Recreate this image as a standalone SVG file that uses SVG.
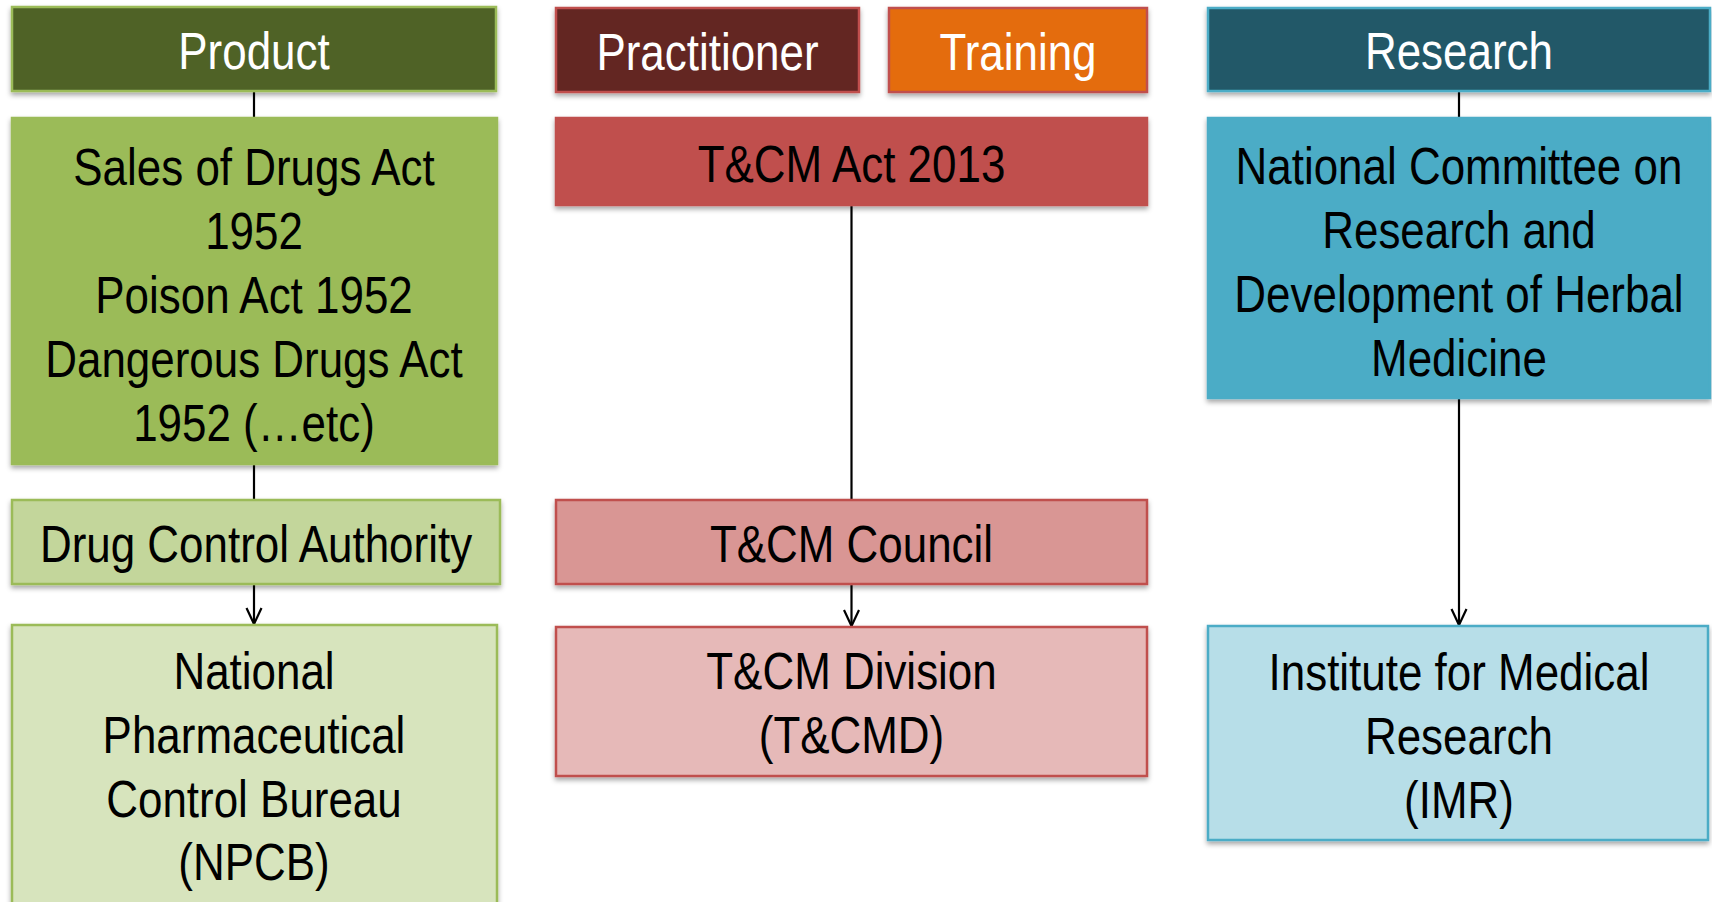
<svg xmlns="http://www.w3.org/2000/svg" width="1712" height="902" viewBox="0 0 1712 902">
<defs>
<style>
text{font-family:"Liberation Sans",Arial,sans-serif;font-size:52px;text-anchor:middle;fill:#000}
.w{fill:#fff}
.box{stroke-width:2.5;filter:url(#sh)}
.g{stroke:#9bbb59}.r{stroke:#c0504d}.b{stroke:#4bacc6}
.c{stroke:#000;stroke-width:2.2;fill:none}
</style>
<filter id="sh" x="-5%" y="-5%" width="110%" height="120%">
<feDropShadow dx="0" dy="3" stdDeviation="2.5" flood-color="#000" flood-opacity="0.35"/>
</filter>
<marker id="ah" viewBox="0 0 18 18" refX="17" refY="9" markerWidth="18" markerHeight="18" markerUnits="userSpaceOnUse" orient="auto">
<path d="M1 1.5 L17 9 L1 16.5" fill="none" stroke="#000" stroke-width="2.2"/>
</marker>
</defs>
<rect width="1712" height="902" fill="#fff"/>
<g id="connectors">
<line class="c" x1="254" y1="91" x2="254" y2="118"/>
<line class="c" x1="254" y1="464" x2="254" y2="500"/>
<line class="c" x1="254" y1="584" x2="254" y2="624" marker-end="url(#ah)"/>
<line class="c" x1="851.5" y1="205" x2="851.5" y2="500"/>
<line class="c" x1="851.5" y1="584" x2="851.5" y2="626" marker-end="url(#ah)"/>
<line class="c" x1="1459" y1="91" x2="1459" y2="118"/>
<line class="c" x1="1459" y1="398" x2="1459" y2="625" marker-end="url(#ah)"/>
</g>
<g id="product">
<rect class="box g" x="12" y="7" width="484" height="84" fill="#4f6228"/>
<text class="w" transform="scale(0.845 1)" x="300.6" y="69">Product</text>
</g>
<g id="sales">
<rect class="box g" x="12" y="118" width="485" height="346" fill="#9bbb59"/>
<text transform="scale(0.845 1)" x="300.6" y="185">Sales of Drugs Act</text>
<text transform="scale(0.845 1)" x="300.6" y="249">1952</text>
<text transform="scale(0.845 1)" x="300.6" y="313">Poison Act 1952</text>
<text transform="scale(0.845 1)" x="300.6" y="377">Dangerous Drugs Act</text>
<text transform="scale(0.845 1)" x="300.6" y="441">1952 (…etc)</text>
</g>
<g id="dca">
<rect class="box g" x="12" y="500" width="488" height="84" fill="#c3d69b"/>
<text transform="scale(0.845 1)" x="303" y="562">Drug Control Authority</text>
</g>
<g id="npcb">
<rect class="box g" x="12" y="625" width="485" height="290" fill="#d7e4bd"/>
<text transform="scale(0.845 1)" x="300.6" y="689">National</text>
<text transform="scale(0.845 1)" x="300.6" y="753">Pharmaceutical</text>
<text transform="scale(0.845 1)" x="300.6" y="817">Control Bureau</text>
<text transform="scale(0.845 1)" x="300.6" y="880">(NPCB)</text>
</g>
<g id="practitioner">
<rect class="box r" x="556" y="8" width="303" height="84" fill="#632523"/>
<text class="w" transform="scale(0.845 1)" x="837.3" y="70">Practitioner</text>
</g>
<g id="training">
<rect class="box r" x="889" y="8" width="258" height="84" fill="#e46c0a"/>
<text class="w" transform="scale(0.845 1)" x="1204.7" y="70">Training</text>
</g>
<g id="tcm-act">
<rect class="box r" x="556" y="118" width="591" height="87" fill="#c0504d"/>
<text transform="scale(0.845 1)" x="1007.7" y="182">T&amp;CM Act 2013</text>
</g>
<g id="tcm-council">
<rect class="box r" x="556" y="500" width="591" height="84" fill="#d99694"/>
<text transform="scale(0.845 1)" x="1007.7" y="562">T&amp;CM Council</text>
</g>
<g id="tcm-division">
<rect class="box r" x="556" y="627" width="591" height="149" fill="#e6b9b8"/>
<text transform="scale(0.845 1)" x="1007.7" y="689">T&amp;CM Division</text>
<text transform="scale(0.845 1)" x="1007.7" y="753">(T&amp;CMD)</text>
</g>
<g id="research">
<rect class="box b" x="1208" y="8" width="502" height="83" fill="#215968"/>
<text class="w" transform="scale(0.845 1)" x="1726.6" y="69">Research</text>
</g>
<g id="national-committee">
<rect class="box b" x="1208" y="118" width="502" height="280" fill="#4bacc6"/>
<text transform="scale(0.845 1)" x="1726.6" y="184">National Committee on</text>
<text transform="scale(0.845 1)" x="1726.6" y="248">Research and</text>
<text transform="scale(0.845 1)" x="1726.6" y="312">Development of Herbal</text>
<text transform="scale(0.845 1)" x="1726.6" y="376">Medicine</text>
</g>
<g id="imr">
<rect class="box b" x="1208" y="626" width="500" height="214" fill="#b7dee8"/>
<text transform="scale(0.845 1)" x="1726.6" y="690">Institute for Medical</text>
<text transform="scale(0.845 1)" x="1726.6" y="754">Research</text>
<text transform="scale(0.845 1)" x="1726.6" y="818">(IMR)</text>
</g>
</svg>
